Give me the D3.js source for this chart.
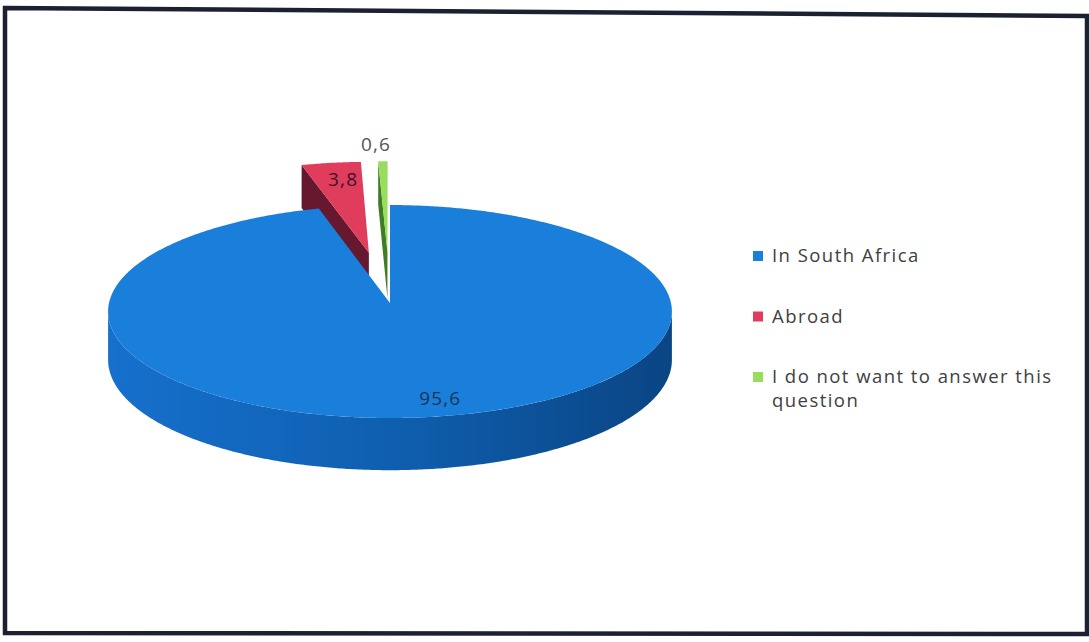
<!DOCTYPE html>
<html>
<head>
<meta charset="utf-8">
<script src="https://cdn.jsdelivr.net/npm/d3@7"></script>
<style>
  html, body { margin: 0; padding: 0; background: #fff; }
  svg { display: block; }
</style>
</head>
<body>
<script>
// ---- data ----
const categories = ["In South Africa", "Abroad", "I do not want to answer this question"];
const values = [95.6, 3.8, 0.6];

// ---- styling ----
const topColors  = ["#1a7fdb", "#e03c5c", "#98dd5e"];
const sideColors = ["#0f5fb2", "#66182f", "#3e7d24"];
const explode     = [0, 0.5, 0.5];      // pull-out distance, in pie radii
const labelRadius = [0.85, 0.8, 1.2];   // label position, in pie radii
const labelNudge  = [15, 5, -6];        // horizontal label shift, px
const labelColors = ["#1d3557", "#3a1524", "#555555"];

const W = 1089, H = 642;
const svg = d3.select("body").append("svg").attr("width", W).attr("height", H);

// outer frame
svg.append("path")
  .attr("d", "M5,8 L1087,16 L1087,634 L5,633 Z")
  .attr("fill", "#fff")
  .attr("stroke", "#1b2130")
  .attr("stroke-width", 4.5);

// ---- 3D pie projection (perspective tilt) ----
const cx = 390, cy = 303, rx = 281, ry = 105.8, k = 0.08, depth = 48;
function proj(u, v, h) {
  const w = 1 + k * v;
  return [cx + rx * u / w, cy - ry * v / w + depth * h / w];
}
const camV = -1 / k;

const pie = d3.pie().sort(null).startAngle(0).endAngle(2 * Math.PI);
const arcs = pie(values).map((d, i) => {
  const mid = (d.startAngle + d.endAngle) / 2;
  return Object.assign(d, {
    i, mid,
    ou: explode[i] * Math.sin(mid),
    ov: explode[i] * Math.cos(mid)
  });
});

const defs = svg.append("defs");
const grad = defs.append("linearGradient")
  .attr("id", "wall0").attr("gradientUnits", "userSpaceOnUse")
  .attr("x1", cx - rx).attr("x2", cx + rx).attr("y1", 0).attr("y2", 0);
grad.append("stop").attr("offset", 0).attr("stop-color", "#1670cc");
grad.append("stop").attr("offset", 0.5).attr("stop-color", "#0f5fb0");
grad.append("stop").attr("offset", 1).attr("stop-color", "#0a4584");

const line = d3.line();
const pieG = svg.append("g");
const STEP = Math.PI / 360;

function arcPts(d, a0, a1, h) {
  const pts = [];
  const n = Math.max(2, Math.ceil((a1 - a0) / STEP));
  for (let j = 0; j <= n; j++) {
    const t = a0 + (a1 - a0) * j / n;
    pts.push(proj(d.ou + Math.sin(t), d.ov + Math.cos(t), h));
  }
  return pts;
}

// draw farthest slices first
const order = arcs.slice().sort((p, q) => q.ov - p.ov);

order.forEach(d => {
  const g = pieG.append("g");
  const wallFill = d.i === 0 ? "url(#wall0)" : sideColors[d.i];

  // outer wall: visible runs only
  const wallVisible = t => (-d.ou * Math.sin(t) - 1 - Math.cos(t) * (-camV + d.ov)) > 0;
  let runs = [], cur = null;
  for (let t = d.startAngle; t <= d.endAngle + 1e-9; t += STEP / 4) {
    if (wallVisible(t)) { if (!cur) cur = [t, t]; cur[1] = t; }
    else if (cur) { runs.push(cur); cur = null; }
  }
  if (cur) runs.push(cur);
  runs.forEach(([a0, a1]) => {
    const pts = arcPts(d, a0, a1, 0).concat(arcPts(d, a0, a1, 1).reverse());
    g.append("path").attr("d", line(pts) + "Z").attr("fill", wallFill);
  });

  // radial faces
  const apexT = proj(d.ou, d.ov, 0), apexB = proj(d.ou, d.ov, 1);
  const a = d.startAngle, b = d.endAngle;
  const startVis = -Math.cos(a) * (-d.ou) + Math.sin(a) * (camV - d.ov) > 0.01;
  const endVis = Math.cos(b) * (-d.ou) - Math.sin(b) * (camV - d.ov) > 0.01;
  [[startVis, a], [endVis, b]].forEach(([vis, t]) => {
    if (!vis) return;
    const oT = proj(d.ou + Math.sin(t), d.ov + Math.cos(t), 0);
    const oB = proj(d.ou + Math.sin(t), d.ov + Math.cos(t), 1);
    g.append("path").attr("d", line([apexT, oT, oB, apexB]) + "Z").attr("fill", sideColors[d.i]);
  });

  // top face
  const top = [apexT].concat(arcPts(d, a, b, 0));
  g.append("path").attr("d", line(top) + "Z").attr("fill", topColors[d.i]);
});

// ---- value labels ----
const fmt = d3.formatLocale({ decimal: ",", thousands: ".", grouping: [3], currency: ["", ""] }).format(".1f");
const labelPos = d => proj(
  d.ou + labelRadius[d.i] * Math.sin(d.mid),
  d.ov + labelRadius[d.i] * Math.cos(d.mid), 0);
svg.append("g")
  .attr("font-family", "'Open Sans', sans-serif")
  .attr("font-size", 19)
  .attr("letter-spacing", 1.2)
  .attr("text-anchor", "middle")
  .selectAll("text").data(arcs).join("text")
  .attr("x", d => labelPos(d)[0] + labelNudge[d.i])
  .attr("y", d => labelPos(d)[1] + 6)
  .attr("fill", d => labelColors[d.i])
  .text(d => fmt(d.data));

// ---- legend ----
const legendY = d3.scalePoint().domain(categories).range([256, 377]);
const legend = svg.append("g")
  .attr("font-family", "'Open Sans', sans-serif")
  .attr("font-size", 18.5)
  .attr("letter-spacing", 1.45)
  .attr("fill", "#404040");

const items = legend.selectAll("g").data(categories).join("g")
  .attr("transform", c => `translate(753,${legendY(c)})`);
items.append("rect")
  .attr("x", 0).attr("y", -5).attr("width", 10).attr("height", 10)
  .attr("fill", (c, i) => topColors[i]);
items.append("text")
  .attr("x", 19).attr("y", 6)
  .each(function (c) {
    const text = d3.select(this);
    const words = c.split(" ");
    let lineWords = [];
    let tspan = text.append("tspan").attr("x", 19).attr("dy", 0);
    words.forEach(w => {
      lineWords.push(w);
      tspan.text(lineWords.join(" "));
      if (tspan.node().getComputedTextLength() > 305 && lineWords.length > 1) {
        lineWords.pop();
        tspan.text(lineWords.join(" "));
        lineWords = [w];
        tspan = text.append("tspan").attr("x", 19).attr("dy", 24).text(w);
      }
    });
  });
</script>
</body>
</html>
